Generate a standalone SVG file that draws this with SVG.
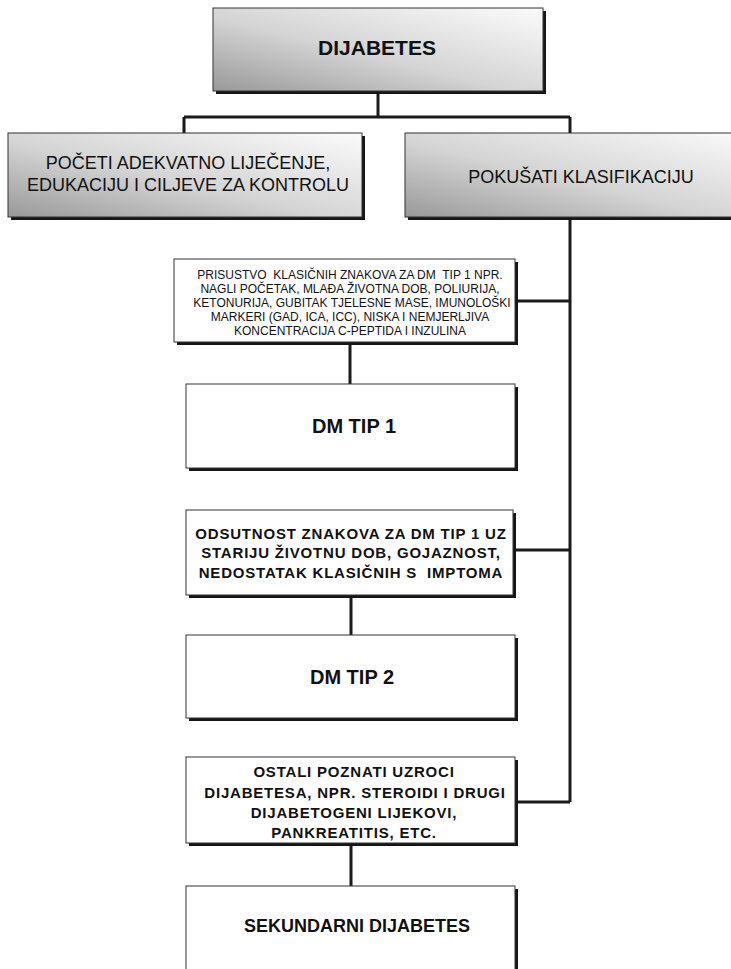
<svg xmlns="http://www.w3.org/2000/svg" width="731" height="969" viewBox="0 0 731 969">
<defs>
<linearGradient id="g" x1="0" y1="1" x2="1" y2="0">
<stop offset="0" stop-color="#999"/>
<stop offset="0.45" stop-color="#d4d4d4"/>
<stop offset="1" stop-color="#fbfbfb"/>
</linearGradient>
<style>
.sh{fill:#161616}
.bx{fill:#ffffff;stroke:#333;stroke-width:1}
.gb{fill:url(#g);stroke:#333;stroke-width:1}
.c{fill:none;stroke:#1a1a1a;stroke-width:3}
.t{font-family:"Liberation Sans",Arial,sans-serif;fill:#111;text-anchor:middle}
.b{font-weight:bold}
.r18{font-size:18px}
.s{font-size:12px;white-space:pre}
.m{font-size:15px;font-weight:bold;letter-spacing:0.8px}
</style>
</defs>
<rect width="731" height="969" fill="#fff"/>
<g id="connectors">
<path class="c" d="M378,91 V117 M184,117 H570 M184,117 V133 M570,117 V133"/>
<path class="c" d="M570,217 V802"/>
<path class="c" d="M515,301 H570 M513,550 H570 M515,802 H570"/>
<path class="c" d="M350,342 V384 M351,595 V635 M351,843 V886"/>
</g>
<g id="dijabetes">
<rect class="sh" x="216" y="11" width="330" height="83"/>
<rect class="gb" x="213" y="8" width="330" height="83"/>
<text class="t b" x="377" y="55" font-size="21">DIJABETES</text>
</g>
<g id="poceti">
<rect class="sh" x="11" y="136" width="354" height="84"/>
<rect class="gb" x="8" y="133" width="354" height="84"/>
<text class="t r18" x="188" y="169">POČETI ADEKVATNO LIJEČENJE,</text>
<text class="t r18" x="188" y="191">EDUKACIJU I CILJEVE ZA KONTROLU</text>
</g>
<g id="pokusati">
<rect class="sh" x="408" y="136" width="352" height="84"/>
<rect class="gb" x="405" y="133" width="352" height="84"/>
<text class="t r18" x="581" y="183">POKUŠATI KLASIFIKACIJU</text>
</g>
<g id="prisustvo">
<rect class="sh" x="177" y="262" width="341" height="83"/>
<rect class="bx" x="174" y="259" width="341" height="83"/>
<text class="t s" x="350" y="279">PRISUSTVO  KLASIČNIH ZNAKOVA ZA DM  TIP 1 NPR.</text>
<text class="t s" x="350" y="293">NAGLI POČETAK, MLAĐA ŽIVOTNA DOB, POLIURIJA,</text>
<text class="t s" x="352" y="307">KETONURIJA, GUBITAK TJELESNE MASE, IMUNOLOŠKI</text>
<text class="t s" x="350" y="321">MARKERI (GAD, ICA, ICC), NISKA I NEMJERLJIVA</text>
<text class="t s" x="350" y="335">KONCENTRACIJA C-PEPTIDA I INZULINA</text>
</g>
<g id="dmtip1">
<rect class="sh" x="189" y="387" width="329" height="84"/>
<rect class="bx" x="186" y="384" width="329" height="84"/>
<text class="t b" x="354" y="433" font-size="20">DM TIP 1</text>
</g>
<g id="odsutnost">
<rect class="sh" x="189" y="513" width="327" height="85"/>
<rect class="bx" x="186" y="510" width="327" height="85"/>
<text class="t m" x="351" y="539">ODSUTNOST ZNAKOVA ZA DM TIP 1 UZ</text>
<text class="t m" x="351" y="558">STARIJU ŽIVOTNU DOB, GOJAZNOST,</text>
<text class="t m" x="351" y="578" style="white-space:pre">NEDOSTATAK KLASIČNIH S  IMPTOMA</text>
</g>
<g id="dmtip2">
<rect class="sh" x="189" y="638" width="329" height="83"/>
<rect class="bx" x="186" y="635" width="329" height="83"/>
<text class="t b" x="352" y="684" font-size="20">DM TIP 2</text>
</g>
<g id="ostali">
<rect class="sh" x="189" y="760" width="329" height="86"/>
<rect class="bx" x="186" y="757" width="329" height="86"/>
<text class="t m" x="354" y="777">OSTALI POZNATI UZROCI</text>
<text class="t m" x="355" y="798">DIJABETESA, NPR. STEROIDI I DRUGI</text>
<text class="t m" x="354" y="818">DIJABETOGENI LIJEKOVI,</text>
<text class="t m" x="354" y="838">PANKREATITIS, ETC.</text>
</g>
<g id="sekundarni">
<rect class="sh" x="189" y="889" width="329" height="100"/>
<rect class="bx" x="186" y="886" width="329" height="100"/>
<text class="t b" x="357" y="932" font-size="18">SEKUNDARNI DIJABETES</text>
</g>
</svg>
